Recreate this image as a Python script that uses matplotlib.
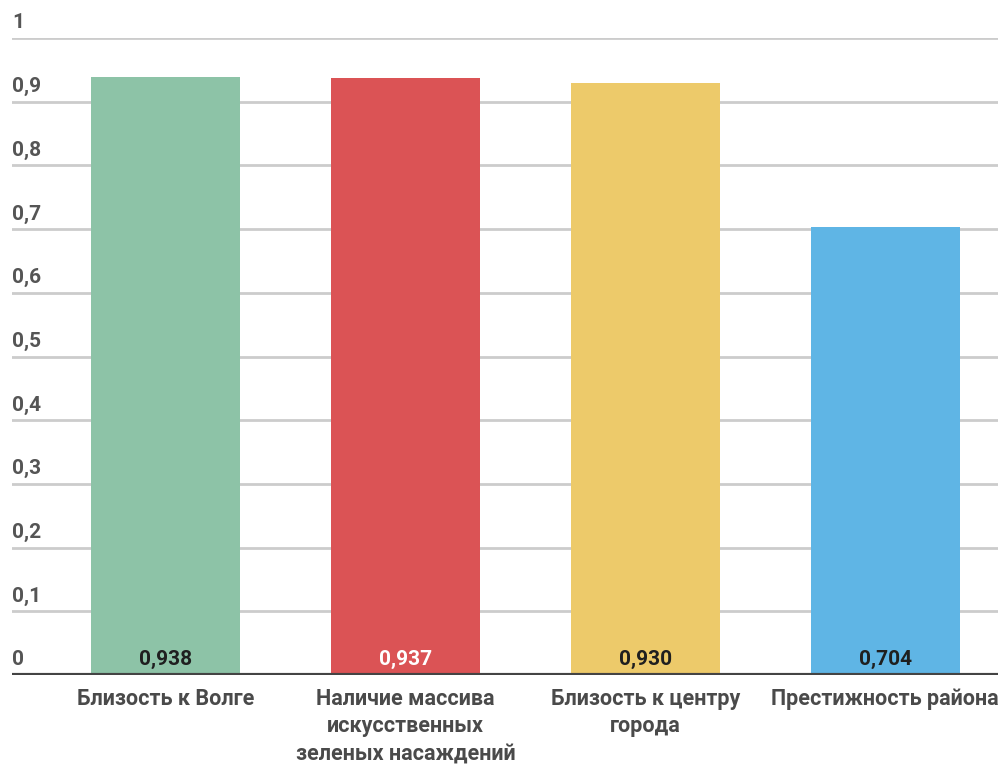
import matplotlib.pyplot as plt
from matplotlib import transforms

plt.rcParams['font.family'] = ['Roboto', 'DejaVu Sans']

# Факторы и их значения
categories = [
    "Близость к Волге",
    "Наличие массива\nискусственных\nзеленых насаждений",
    "Близость к центру\nгорода",
    "Престижность района",
]
values = [0.938, 0.937, 0.930, 0.704]
bar_colors = ["#8DC3A7", "#DB5355", "#EDCA6A", "#5FB5E5"]
value_colors = ["#1f1f1f", "#ffffff", "#1f1f1f", "#1f1f1f"]
y_ticks = [0, 0.1, 0.2, 0.3, 0.4, 0.5, 0.6, 0.7, 0.8, 0.9, 1]

fig = plt.figure(figsize=(9.98, 7.65), dpi=100)
ax = fig.add_axes([12 / 998, 90 / 765, 986 / 998, 637 / 765])

x = list(range(len(categories)))
ax.bar(x, values, width=149 / 240, color=bar_colors, zorder=2)

ax.set_xlim(-0.64, 3.47)
ax.set_ylim(0, 1)

# сетка
for t in y_ticks[1:]:
    ax.axhline(t, color="#cccccc", lw=2, zorder=1)
ax.axhline(0, color="#444444", lw=3, zorder=3)

# подписи оси Y над линиями сетки
for t in y_ticks:
    off = transforms.offset_copy(ax.get_yaxis_transform(), fig=fig, x=0, y=4, units="points")
    ax.text(0, t, f"{t:g}".replace(".", ","), transform=off, ha="left", va="bottom",
            fontsize=15, fontweight="bold", color="#555555")

# значения внутри столбцов
for xi, v, c in zip(x, values, value_colors):
    ax.text(xi, 0.009, f"{v:.3f}".replace(".", ","), ha="center", va="bottom",
            fontsize=15, fontweight="bold", color=c, zorder=4)

# подписи категорий
for xi, name in zip(x, categories):
    ax.text(xi, -0.02, name, ha="center", va="top", fontsize=15.5,
            fontweight="bold", color="#4a4a4a", linespacing=1.32)

ax.set_xticks([])
ax.set_yticks([])
for s in ax.spines.values():
    s.set_visible(False)

fig.savefig("out.png", dpi=100)
